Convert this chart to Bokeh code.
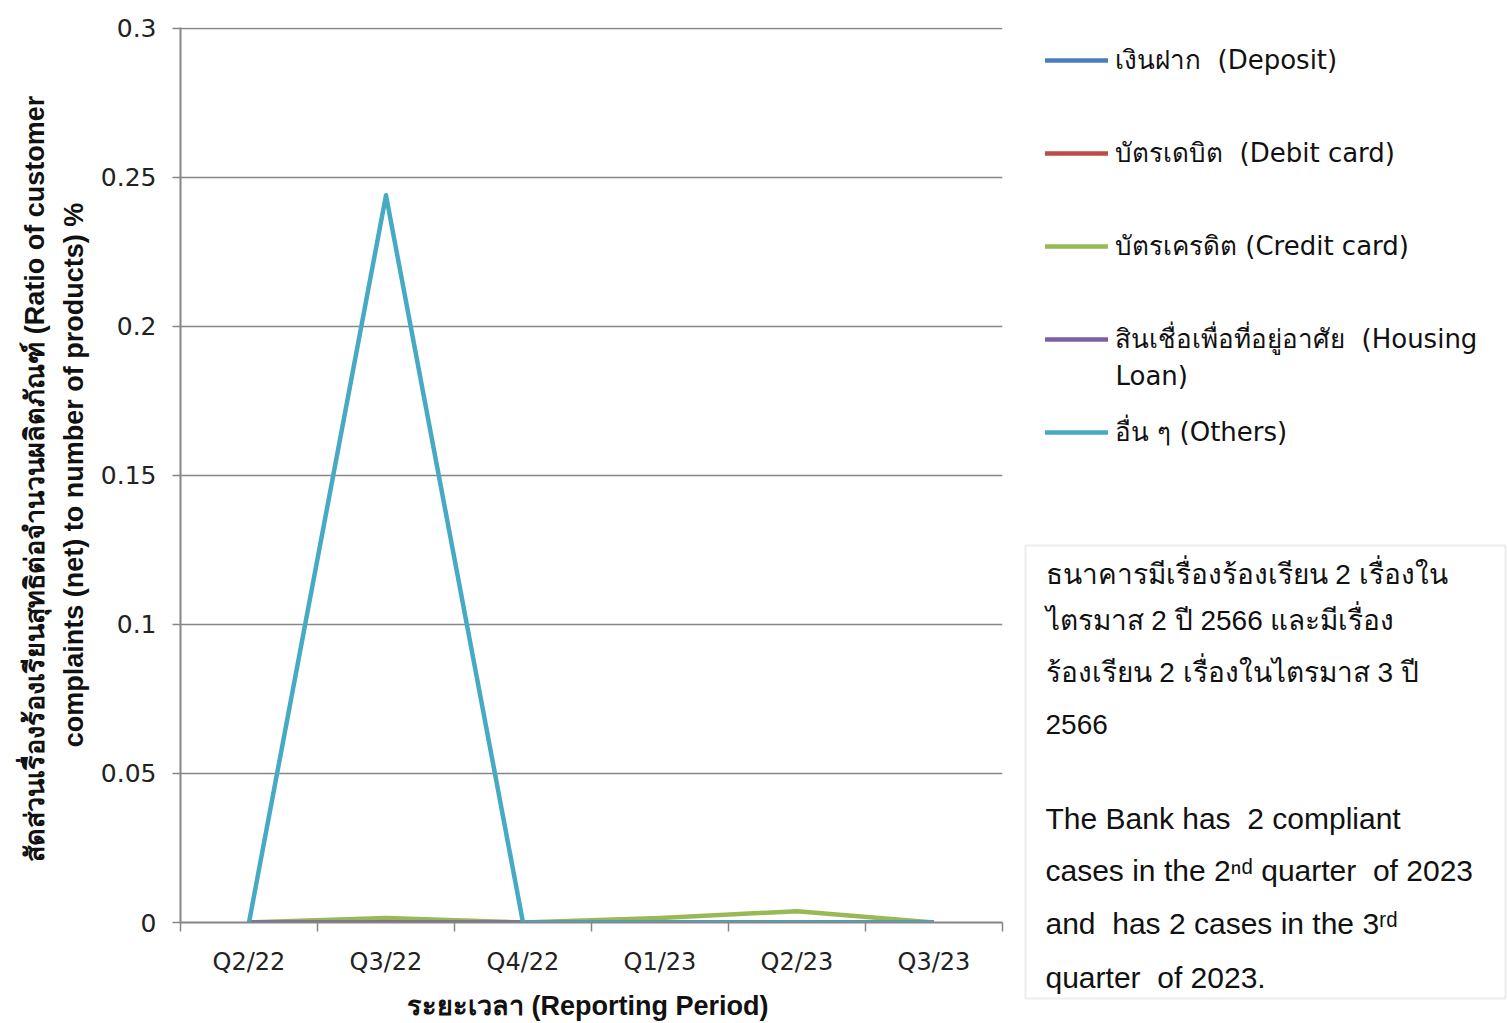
from bokeh.plotting import figure
from bokeh.layouts import row, column
from bokeh.models import (FixedTicker, NumeralTickFormatter, Legend, LegendItem,
                          Label, BoxAnnotation, Range1d)
from bokeh.embed import file_html
from bokeh.resources import INLINE

# ---- data ----
categories = ["Q2/22", "Q3/22", "Q4/22", "Q1/23", "Q2/23", "Q3/23"]
deposit = [0, 0, 0, 0, 0, 0]
debit_card = [0, 0, 0, 0, 0, 0]
credit_card = [0, 0.0015, 0, 0.0015, 0.0038, 0]
housing_loan = [0, 0, 0, 0, 0, 0]
others = [0, 0.244, 0, 0, 0, 0]
y_ticks = [0, 0.05, 0.1, 0.15, 0.2, 0.25, 0.3]

series_labels = ["เงินฝาก  (Deposit)", "บัตรเดบิต  (Debit card)", "บัตรเครดิต (Credit card)",
                 "สินเชื่อเพื่อที่อยู่อาศัย  (Housing", "อื่น ๆ (Others)"]
housing_label_wrap = "Loan)"
series_colors = ["#4A7EBB", "#BE4B48", "#98B954", "#7D60A0", "#46AAC5"]

note_thai = ["ธนาคารมีเรื่องร้องเรียน  2 เรื่องใน",
             "ไตรมาส 2 ปี 2566 และมีเรื่อง",
             "ร้องเรียน 2 เรื่องในไตรมาส 3 ปี",
             "2566"]
note_eng = ["The Bank has \u00a02 compliant",
            "cases in the 2ⁿᵈ quarter \u00a0of 2023",
            "and \u00a0has 2 cases in the 3ʳᵈ",
            "quarter \u00a0of 2023."]

x_title = "ระยะเวลา  (Reporting Period)"
y_title = ("สัดส่วนเรื่องร้องเรียนสุทธิต่อจำนวนผลิตภัณฑ์  (Ratio of customer\n"
           "complaints (net) to number of products) %")

# ---- main chart ----
x = [i + 0.5 for i in range(len(categories))]
GREY = "#868686"
H = 1023
W_MAIN = 1006
W_SIDE = 502

p = figure(width=W_MAIN, height=H, x_range=Range1d(0, len(categories)),
           y_range=Range1d(0, 0.3003), output_backend="svg", toolbar_location=None,
           min_border_left=180, min_border_right=4, min_border_top=27,
           min_border_bottom=100)
p.outline_line_color = None
p.background_fill_color = "white"

# x axis (labels centred in slots, ticks between categories)
p.xaxis.ticker = FixedTicker(ticks=x, minor_ticks=list(range(len(categories) + 1)))
p.xaxis.major_label_overrides = {xv: c for xv, c in zip(x, categories)}
p.xaxis.major_tick_out = 0
p.xaxis.major_tick_in = 0
p.xaxis.minor_tick_out = 9
p.xaxis.minor_tick_in = 0
p.xaxis.minor_tick_line_color = GREY
p.xaxis.minor_tick_line_width = 1.5
p.xaxis.axis_line_color = GREY
p.xaxis.axis_line_width = 2
p.xaxis.major_label_text_font = "DejaVu Sans"
p.xaxis.major_label_text_font_size = "24px"
p.xaxis.major_label_text_color = "#222222"
p.xaxis.major_label_standoff = 16
p.xaxis.axis_label = x_title
p.xaxis.axis_label_text_font = "Liberation Sans"
p.xaxis.axis_label_text_font_size = "27px"
p.xaxis.axis_label_text_font_style = "bold"
p.xaxis.axis_label_text_color = "#111111"
p.xaxis.axis_label_standoff = 12

# y axis
p.yaxis.ticker = FixedTicker(ticks=y_ticks, minor_ticks=[])
p.yaxis.formatter = NumeralTickFormatter(format="0.[00]")
p.yaxis.major_tick_out = 8
p.yaxis.major_tick_in = 0
p.yaxis.major_tick_line_color = GREY
p.yaxis.major_tick_line_width = 1.5
p.yaxis.minor_tick_out = 0
p.yaxis.minor_tick_in = 0
p.yaxis.axis_line_color = GREY
p.yaxis.axis_line_width = 2
p.yaxis.major_label_text_font = "DejaVu Sans"
p.yaxis.major_label_text_font_size = "25px"
p.yaxis.major_label_text_color = "#222222"
p.yaxis.major_label_standoff = 16
p.yaxis.axis_label = y_title
p.yaxis.axis_label_text_font = "Liberation Sans"
p.yaxis.axis_label_text_font_size = "27px"
p.yaxis.axis_label_text_font_style = "bold"
p.yaxis.axis_label_text_color = "#111111"
p.yaxis.axis_label_text_line_height = 1.3
p.yaxis.axis_label_standoff = 9

p.xgrid.visible = False
p.ygrid.grid_line_color = GREY
p.ygrid.grid_line_width = 1.5

series = [deposit, debit_card, credit_card, housing_loan, others]
for ys, color in zip(series, series_colors):
    p.line(x, ys, line_color=color, line_width=4.5, line_join="round")

# ---- side panel: legend + note ----
# pixel-like coordinates; offset X0 keeps the legend's proxy lines out of view
X0 = 100
s = figure(width=W_SIDE, height=H, x_range=Range1d(X0, X0 + W_SIDE), y_range=Range1d(H, 0),
           output_backend="svg", toolbar_location=None,
           x_axis_location=None, y_axis_location=None,
           min_border_left=0, min_border_right=0, min_border_top=0, min_border_bottom=0)
s.outline_line_color = None
s.grid.visible = False
s.background_fill_color = "white"

items = []
for label, ys, color in zip(series_labels, series, series_colors):
    r = s.line(x, ys, line_color=color, line_width=4.5, line_cap="round")
    items.append(LegendItem(label=label, renderers=[r]))

legend = Legend(items=items, location="top_left", border_line_color=None,
                background_fill_alpha=0, padding=0, margin=39, spacing=52,
                glyph_width=63, glyph_height=30, label_height=30, label_standoff=7,
                label_text_font="DejaVu Sans", label_text_font_size="26px",
                label_text_color="#111111")
s.add_layout(legend)

s.add_layout(Label(x=X0 + 109, y=375, text=housing_label_wrap, text_baseline="middle",
                   text_font="DejaVu Sans", text_font_size="26px",
                   text_color="#111111"))

s.add_layout(BoxAnnotation(left=X0 + 19, right=X0 + 499, top=545, bottom=998,
                           fill_color="white", fill_alpha=1.0,
                           line_color="#C3C3C3", line_width=2))

for txt, yy in zip(note_thai, [574, 620, 672, 724]):
    s.add_layout(Label(x=X0 + 39, y=yy, text=txt, text_baseline="middle",
                       text_font="Liberation Sans", text_font_size="28px",
                       text_color="#111111"))
for txt, yy in zip(note_eng, [818, 870, 923, 977]):
    s.add_layout(Label(x=X0 + 39, y=yy, text=txt, text_baseline="middle",
                       text_font="Liberation Sans", text_font_size="30px",
                       text_color="#111111"))

layout = row(p, column(s), spacing=0)
open("out.html", "w").write(file_html(layout, INLINE))
